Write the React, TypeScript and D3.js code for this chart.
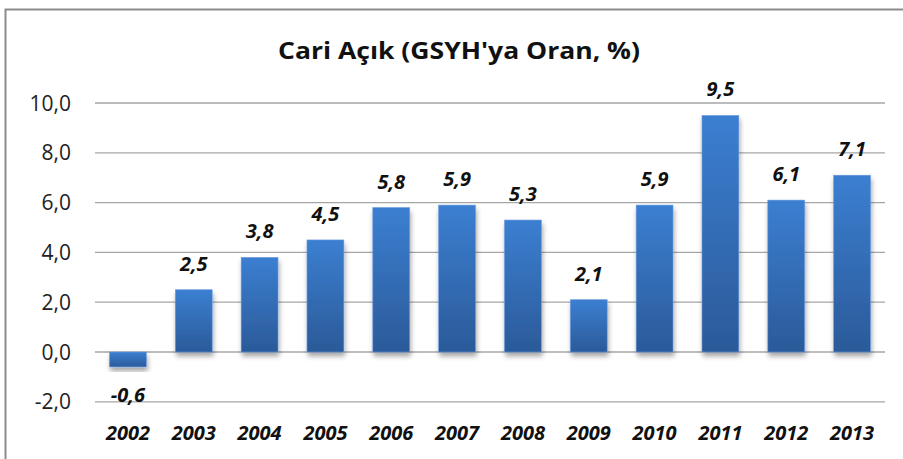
import * as d3 from "d3";
import { useEffect, useRef } from "react";

const years = ["2002", "2003", "2004", "2005", "2006", "2007", "2008", "2009", "2010", "2011", "2012", "2013"];
const values = [-0.6, 2.5, 3.8, 4.5, 5.8, 5.9, 5.3, 2.1, 5.9, 9.5, 6.1, 7.1];
const yTicks = [-2, 0, 2, 4, 6, 8, 10];

const W = 903;
const H = 459;
const FONT = "'Open Sans', Lato, sans-serif";

const fmt = (v: number) => v.toFixed(1).replace(".", ",");

export default function App() {
  const ref = useRef<SVGSVGElement>(null);

  useEffect(() => {
    const svg = d3.select(ref.current);
    svg.selectAll("*").remove();

    const x = d3.scaleBand().domain(years).range([95, 885]).paddingInner(0.44).paddingOuter(0.22);
    const y = d3.scaleLinear().domain([-2, 10]).range([401.8, 103]);

    const defs = svg.append("defs");
    const grad = defs.append("linearGradient").attr("id", "barGrad")
      .attr("x1", 0).attr("y1", 0).attr("x2", 0).attr("y2", 1);
    grad.append("stop").attr("offset", "0%").attr("stop-color", "#3b7fd1");
    grad.append("stop").attr("offset", "100%").attr("stop-color", "#2b5a99");
    const shadow = defs.append("filter").attr("id", "shadow")
      .attr("x", "-30%").attr("y", "-30%").attr("width", "160%").attr("height", "160%");
    shadow.append("feDropShadow").attr("dx", 1).attr("dy", 4).attr("stdDeviation", 2.5)
      .attr("flood-color", "#000").attr("flood-opacity", 0.35);

    // frame
    svg.append("rect").attr("x", 0).attr("y", 0).attr("width", W).attr("height", H).attr("fill", "#fff");
    svg.append("path").attr("d", `M5.5,${H} V9.5 H${W}`)
      .attr("fill", "none").attr("stroke", "#8c8c8c").attr("stroke-width", 2);

    // title
    svg.append("text").attr("x", 459).attr("y", 59).attr("text-anchor", "middle")
      .attr("font-family", FONT).attr("font-weight", 700).attr("font-size", 24)
      .attr("textLength", 362).attr("lengthAdjust", "spacingAndGlyphs")
      .attr("fill", "#111").text("Cari Açık (GSYH'ya Oran, %)");

    // grid
    svg.append("g").selectAll("line").data(yTicks).join("line")
      .attr("x1", 95).attr("x2", 885)
      .attr("y1", (d) => y(d)).attr("y2", (d) => y(d))
      .attr("stroke", "#a6a6a6").attr("stroke-width", 1.3);

    // y axis labels
    svg.append("g").selectAll("text").data(yTicks).join("text")
      .attr("x", 71).attr("y", (d) => y(d) + 7.5).attr("text-anchor", "end")
      .attr("font-family", FONT).attr("font-size", 21).attr("fill", "#222")
      .text((d) => fmt(d));

    // bars
    svg.append("g").selectAll("rect").data(values).join("rect")
      .attr("x", (_, i) => x(years[i])!)
      .attr("width", x.bandwidth())
      .attr("y", (d) => y(Math.max(0, d)))
      .attr("height", (d) => Math.abs(y(d) - y(0)))
      .attr("fill", "url(#barGrad)")
      .attr("stroke", "#6d9be0").attr("stroke-width", 0.6)
      .attr("filter", "url(#shadow)");

    // value labels
    svg.append("g").selectAll("text").data(values).join("text")
      .attr("x", (_, i) => x(years[i])! + x.bandwidth() / 2)
      .attr("y", (d) => (d >= 0 ? y(d) - 19 : y(d) + 35))
      .attr("text-anchor", "middle")
      .attr("font-family", FONT).attr("font-size", 20).attr("font-weight", 700).attr("font-style", "italic")
      .attr("fill", "#111")
      .text((d) => fmt(d));

    // x axis labels
    svg.append("g").selectAll("text").data(years).join("text")
      .attr("x", (d) => x(d)! + x.bandwidth() / 2)
      .attr("y", 440).attr("text-anchor", "middle")
      .attr("font-family", FONT).attr("font-size", 20).attr("font-weight", 700).attr("font-style", "italic")
      .attr("fill", "#111")
      .text((d) => d);
  }, []);

  return (
    <svg ref={ref} width={W} height={H} style={{ position: "absolute", left: 0, top: 0 }} />
  );
}
